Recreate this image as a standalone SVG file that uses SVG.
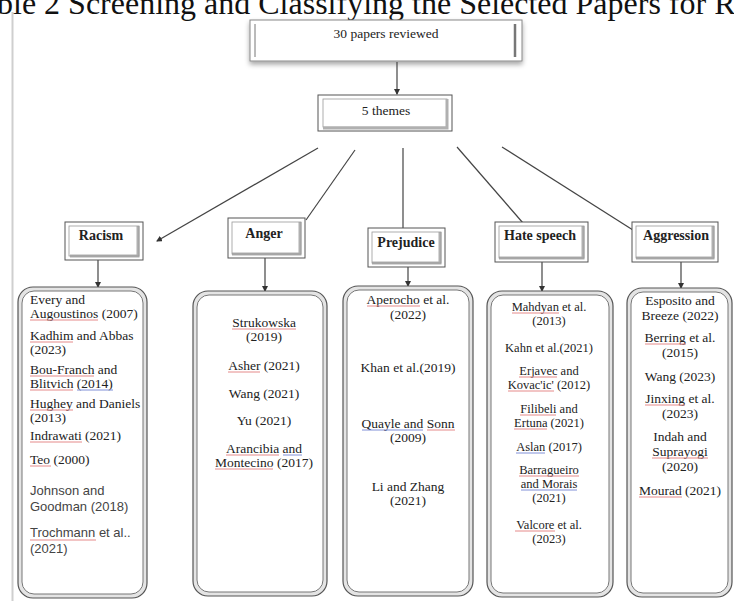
<svg xmlns="http://www.w3.org/2000/svg" width="734" height="601" viewBox="0 0 734 601">
<style>
.t{font-family:"Liberation Serif","Times New Roman",serif;font-size:13.5px;fill:#222}
.hs{font-size:12.5px}
.c{text-anchor:middle}
.h{font-family:"Liberation Serif","Times New Roman",serif;font-size:14px;font-weight:bold;fill:#222;text-anchor:middle}
.s{font-family:"Liberation Sans",Arial,sans-serif;font-size:13px;fill:#444}
.ln{stroke:#444;stroke-width:1.2;fill:none}
.ob{fill:#fff;stroke:#555;stroke-width:1}
.ib{fill:none;stroke:#999;stroke-width:0.8}
.bev{fill:none;stroke:#b0b0b0;stroke-width:3}
.col{fill:#e4e4e4;stroke:#555;stroke-width:1.2}
.coli{fill:#fff;stroke:#777;stroke-width:1}
.red{stroke:#e58a8a;stroke-width:1}
.blu{stroke:#8090d8;stroke-width:1}
</style>
<defs>
<marker id="ah" markerWidth="6" markerHeight="6" refX="5" refY="3" orient="auto" markerUnits="userSpaceOnUse">
<path d="M0,0 L6,3 L0,6 z" fill="#333"/>
</marker>
<filter id="sh" x="-10%" y="-20%" width="120%" height="160%">
<feDropShadow dx="0" dy="3" stdDeviation="2.5" flood-color="#000" flood-opacity="0.35"/>
</filter>
</defs>
<rect x="0" y="0" width="734" height="601" fill="#fff"/>
<line x1="12.5" y1="12" x2="12.5" y2="601" stroke="#cfcfcf" stroke-width="2"/>
<text x="-3" y="14" font-family="'Liberation Serif','Times New Roman',serif" font-size="32" fill="#111">ble 2 Screening and Classifying the Selected Papers for R</text>

<g id="root">
<rect x="250" y="20" width="272" height="41" fill="#fff" stroke="#888" stroke-width="1" filter="url(#sh)"/>
<line x1="255" y1="24" x2="255" y2="57" stroke="#777" stroke-width="1"/>
<line x1="515" y1="24" x2="515" y2="57" stroke="#777" stroke-width="2.5"/>
<text class="t c" x="386" y="38" font-size="16">30 papers reviewed</text>
</g>

<g id="themes">
<rect class="ob" x="318" y="95" width="134" height="36"/>
<rect class="ib" x="323" y="99" width="124" height="28"/>
<path class="bev" d="M447,99 V128 H323"/>
<text class="t c" x="386" y="115" font-size="15">5 themes</text>
</g>

<g id="connectors">
<line class="ln" x1="397" y1="62" x2="397" y2="94" marker-end="url(#ah)"/>
<line class="ln" x1="318" y1="148" x2="157" y2="241" marker-end="url(#ah)"/>
<line class="ln" x1="355" y1="150" x2="306" y2="220"/>
<line class="ln" x1="403" y1="148" x2="403" y2="229"/>
<line class="ln" x1="457" y1="147" x2="523" y2="223"/>
<line class="ln" x1="502" y1="147" x2="655" y2="244" marker-end="url(#ah)"/>
<line class="ln" x1="98" y1="249" x2="98" y2="287" marker-end="url(#ah)"/>
<line class="ln" x1="265" y1="252" x2="265" y2="291" marker-end="url(#ah)"/>
<line class="ln" x1="408" y1="257" x2="408" y2="286" marker-end="url(#ah)"/>
<line class="ln" x1="542" y1="252" x2="542" y2="291" marker-end="url(#ah)"/>
<line class="ln" x1="681" y1="254" x2="681" y2="288" marker-end="url(#ah)"/>
</g>

<g id="racism">
<rect class="ob" x="65" y="222" width="78" height="38"/>
<path class="bev" d="M138,226 V256 H70"/>
<rect class="ib" x="69" y="226" width="70" height="30"/>
<text class="h" x="101" y="240">Racism</text>
</g>
<g id="anger">
<rect class="ob" x="228" y="218" width="77" height="40"/>
<path class="bev" d="M300,222 V254 H232"/>
<rect class="ib" x="232" y="222" width="69" height="32"/>
<text class="h" x="264" y="238">Anger</text>
</g>
<g id="prejudice">
<rect class="ob" x="368" y="228" width="77" height="39"/>
<path class="bev" d="M440,232 V263 H372"/>
<rect class="ib" x="372" y="232" width="69" height="31"/>
<text class="h" x="406" y="247">Prejudice</text>
</g>
<g id="hate">
<rect class="ob" x="495" y="222" width="93" height="40"/>
<path class="bev" d="M583,226 V258 H499"/>
<rect class="ib" x="499" y="226" width="85" height="32"/>
<text class="h" x="540" y="240">Hate speech</text>
</g>
<g id="aggression">
<rect class="ob" x="632" y="222" width="86" height="40"/>
<path class="bev" d="M713,226 V258 H636"/>
<rect class="ib" x="636" y="226" width="78" height="32"/>
<text class="h" x="676" y="240">Aggression</text>
</g>

<g id="col-racism">
<rect class="col" x="18" y="287" width="129" height="311" rx="15"/>
<rect class="coli" x="22" y="291" width="121" height="303" rx="12"/>
<text class="t" x="30" y="304">Every and</text>
<text class="t" x="30" y="318">Augoustinos (2007)</text>
<text class="t" x="30" y="340">Kadhim and Abbas</text>
<text class="t" x="30" y="354">(2023)</text>
<text class="t" x="30" y="374">Bou-Franch and</text>
<text class="t" x="30" y="388">Blitvich (2014)</text>
<text class="t" x="30" y="408">Hughey and Daniels</text>
<text class="t" x="30" y="422">(2013)</text>
<text class="t" x="30" y="440">Indrawati (2021)</text>
<text class="t" x="30" y="464">Teo (2000)</text>
<text class="s" x="30" y="495">Johnson and</text>
<text class="s" x="30" y="511">Goodman (2018)</text>
<text class="s" x="30" y="537">Trochmann et al..</text>
<text class="s" x="30" y="553">(2021)</text>
<line class="red" x1="30" y1="320" x2="98" y2="320"/>
<line class="red" x1="30" y1="342" x2="73" y2="342"/>
<line class="red" x1="30" y1="376" x2="94" y2="376"/>
<line class="red" x1="30" y1="390" x2="73" y2="390"/>
<line class="blu" x1="77" y1="390" x2="113" y2="390"/>
<line class="red" x1="30" y1="410" x2="73" y2="410"/>
<line class="red" x1="30" y1="442" x2="82" y2="442"/>
<line class="red" x1="30" y1="466" x2="51" y2="466"/>
<line class="red" x1="30" y1="540" x2="96" y2="540"/>
</g>

<g id="col-anger">
<rect class="col" x="193" y="291" width="134" height="305" rx="15"/>
<rect class="coli" x="197" y="295" width="126" height="297" rx="12"/>
<text class="t c" x="264" y="327">Strukowska</text>
<text class="t c" x="264" y="341">(2019)</text>
<text class="t c" x="264" y="370">Asher (2021)</text>
<text class="t c" x="264" y="398">Wang (2021)</text>
<text class="t c" x="264" y="425">Yu (2021)</text>
<text class="t c" x="264" y="453">Arancibia and</text>
<text class="t c" x="264" y="467">Montecino (2017)</text>
<line class="red" x1="232" y1="329" x2="296" y2="329"/>
<line class="red" x1="228" y1="372" x2="260" y2="372"/>
<line class="red" x1="226" y1="455" x2="279" y2="455"/>
<line class="blu" x1="283" y1="455" x2="302" y2="455"/>
<line class="red" x1="215" y1="469" x2="273" y2="469"/>
</g>

<g id="col-prejudice">
<rect class="col" x="343" y="286" width="130" height="310" rx="15"/>
<rect class="coli" x="347" y="290" width="122" height="302" rx="12"/>
<text class="t c" x="408" y="304">Aperocho et al.</text>
<text class="t c" x="408" y="319">(2022)</text>
<text class="t c" x="408" y="372">Khan et al.(2019)</text>
<text class="t c" x="408" y="428">Quayle and Sonn</text>
<text class="t c" x="408" y="442">(2009)</text>
<text class="t c" x="408" y="491">Li and Zhang</text>
<text class="t c" x="408" y="505">(2021)</text>
<line class="red" x1="367" y1="306" x2="420" y2="306"/>
<line class="blu" x1="362" y1="430" x2="423" y2="430"/>
<line class="red" x1="427" y1="430" x2="455" y2="430"/>
</g>

<g id="col-hate">
<rect class="col" x="487" y="291" width="126" height="306" rx="15"/>
<rect class="coli" x="491" y="295" width="118" height="298" rx="12"/>
<text class="t c hs" x="549" y="311">Mahdyan et al.</text>
<text class="t c hs" x="549" y="325">(2013)</text>
<text class="t c hs" x="549" y="352">Kahn et al.(2021)</text>
<text class="t c hs" x="549" y="375">Erjavec and</text>
<text class="t c hs" x="549" y="389">Kovac'ic' (2012)</text>
<text class="t c hs" x="549" y="413">Filibeli and</text>
<text class="t c hs" x="549" y="427">Ertuna (2021)</text>
<text class="t c hs" x="549" y="451">Aslan (2017)</text>
<text class="t c hs" x="549" y="474">Barragueiro</text>
<text class="t c hs" x="549" y="488">and Morais</text>
<text class="t c hs" x="549" y="502">(2021)</text>
<text class="t c hs" x="549" y="529">Valcore et al.</text>
<text class="t c hs" x="549" y="543">(2023)</text>
<line class="red" x1="512" y1="313" x2="559" y2="313"/>
<line class="red" x1="519" y1="377" x2="557" y2="377"/>
<line class="red" x1="508" y1="391" x2="554" y2="391"/>
<line class="red" x1="520" y1="415" x2="556" y2="415"/>
<line class="red" x1="514" y1="429" x2="547" y2="429"/>
<line class="blu" x1="516" y1="453" x2="545" y2="453"/>
<line class="red" x1="519" y1="476" x2="579" y2="476"/>
<line class="blu" x1="521" y1="490" x2="577" y2="490"/>
<line class="red" x1="515" y1="531" x2="555" y2="531"/>
</g>

<g id="col-aggression">
<rect class="col" x="627" y="288" width="105" height="309" rx="15"/>
<rect class="coli" x="631" y="292" width="97" height="301" rx="12"/>
<text class="t c" x="680" y="305">Esposito and</text>
<text class="t c" x="680" y="320">Breeze (2022)</text>
<text class="t c" x="680" y="342">Berring et al.</text>
<text class="t c" x="680" y="357">(2015)</text>
<text class="t c" x="680" y="381">Wang (2023)</text>
<text class="t c" x="680" y="403">Jinxing et al.</text>
<text class="t c" x="680" y="418">(2023)</text>
<text class="t c" x="680" y="441">Indah and</text>
<text class="t c" x="680" y="456">Suprayogi</text>
<text class="t c" x="680" y="471">(2020)</text>
<text class="t c" x="680" y="495">Mourad (2021)</text>
<line class="red" x1="645" y1="344" x2="686" y2="344"/>
<line class="red" x1="645" y1="405" x2="685" y2="405"/>
<line class="red" x1="652" y1="458" x2="708" y2="458"/>
<line class="red" x1="639" y1="497" x2="682" y2="497"/>
</g>
</svg>
